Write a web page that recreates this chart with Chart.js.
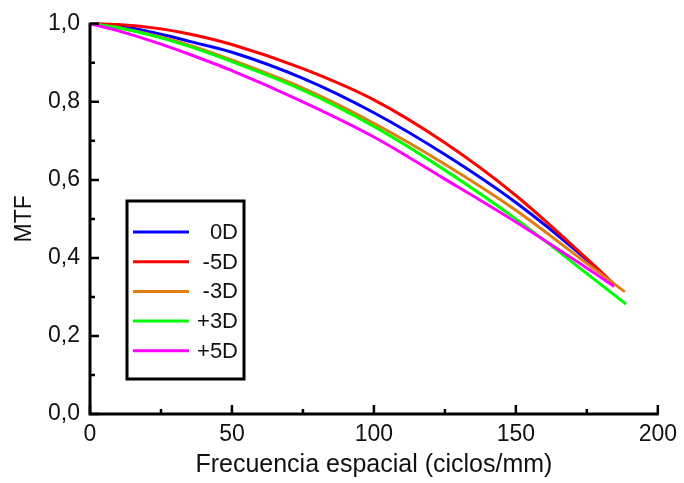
<!DOCTYPE html>
<html>
<head>
<meta charset="utf-8">
<title>MTF</title>
<script src="https://cdn.jsdelivr.net/npm/chart.js@4.4.1/dist/chart.umd.min.js"></script>
<style>
  html, body { margin: 0; padding: 0; background: #fff; }
  #grafico { display: block; }
</style>
</head>
<body>
<canvas id="grafico" width="684" height="483"></canvas>
<script>
// Frecuencias comunes (ciclos/mm) y punto final de cada curva
const frecuencia = [0, 10, 25, 35, 50, 75, 100, 125, 150, 175];
const frecuenciaFinal = [184, 185, 188.4, 188.8, 184.6];

const etiquetas = ['0D', '-5D', '-3D', '+3D', '+5D'];
const colores = ['#0000ff', '#ff0000', '#e07d10', '#00ff00', '#ff00ff'];

// Valores de MTF
const mtf0D  = [1.0, 0.995, 0.973, 0.955, 0.927, 0.86, 0.772, 0.665, 0.542, 0.395, 0.335];
const mtfM5D = [1.0, 0.998, 0.987, 0.974, 0.947, 0.885, 0.805, 0.695, 0.56, 0.398, 0.33];
const mtfM3D = [1.0, 0.99, 0.966, 0.945, 0.907, 0.835, 0.745, 0.64, 0.522, 0.386, 0.313];
const mtfP3D = [1.0, 0.99, 0.964, 0.942, 0.903, 0.83, 0.737, 0.625, 0.50, 0.36, 0.282];
const mtfP5D = [1.0, 0.982, 0.948, 0.922, 0.88, 0.80, 0.71, 0.602, 0.492, 0.374, 0.327];

const series = [mtf0D, mtfM5D, mtfM3D, mtfP3D, mtfP5D];

const yTicks = [0, 0.2, 0.4, 0.6, 0.8, 1.0];
const xTicks = [0, 50, 100, 150, 200];

const fuente = '"Liberation Sans", Arial, sans-serif';

const datasets = series.map((valores, i) => ({
  label: etiquetas[i],
  data: valores.map((v, j) => ({ x: j < frecuencia.length ? frecuencia[j] : frecuenciaFinal[i], y: v })),
  borderColor: colores[i],
  borderWidth: 3,
  pointRadius: 0,
  cubicInterpolationMode: 'monotone',
  fill: false,
  clip: false,
  order: series.length - i
}));

// ejes con marcas hacia dentro
const ejes = {
  id: 'ejes',
  afterDatasetsDraw(chart) {
    const ctx = chart.ctx;
    const xs = chart.scales.x, ys = chart.scales.y;
    const x0 = xs.getPixelForValue(0), y0 = ys.getPixelForValue(0);
    ctx.save();
    ctx.strokeStyle = '#000';
    ctx.lineWidth = 3;
    ctx.lineCap = 'butt';
    ctx.beginPath();
    ctx.moveTo(x0, ys.getPixelForValue(1.0) - 1);
    ctx.lineTo(x0, y0);
    ctx.lineTo(xs.getPixelForValue(200) + 1, y0);
    ctx.stroke();
    ctx.lineWidth = 2.5;
    ctx.beginPath();
    for (let v = 0; v <= 200; v += 25) {
      const px = xs.getPixelForValue(v);
      const len = v % 50 === 0 ? 9 : 5;
      ctx.moveTo(px, y0);
      ctx.lineTo(px, y0 - len);
    }
    for (let k = 0; k <= 10; k++) {
      const py = ys.getPixelForValue(k / 10);
      const len = k % 2 === 0 ? 9 : 5;
      ctx.moveTo(x0, py);
      ctx.lineTo(x0 + len, py);
    }
    ctx.stroke();
    ctx.restore();
  }
};

// leyenda dentro del área
const leyenda = {
  id: 'leyenda',
  afterDraw(chart) {
    const ctx = chart.ctx;
    const caja = { x: 127, y: 201, w: 117, h: 178 };
    ctx.save();
    ctx.fillStyle = '#fff';
    ctx.fillRect(caja.x, caja.y, caja.w, caja.h);
    ctx.strokeStyle = '#000';
    ctx.lineWidth = 3;
    ctx.strokeRect(caja.x, caja.y, caja.w, caja.h);
    ctx.font = '22px ' + fuente;
    ctx.textAlign = 'right';
    ctx.textBaseline = 'middle';
    chart.data.datasets.forEach((ds, i) => {
      const y = 232 + i * 29.7;
      ctx.strokeStyle = ds.borderColor;
      ctx.lineWidth = 3;
      ctx.beginPath();
      ctx.moveTo(133, y);
      ctx.lineTo(189, y);
      ctx.stroke();
      ctx.fillStyle = '#111';
      ctx.fillText(ds.label, 238, y + 1);
    });
    ctx.restore();
  }
};

new Chart(document.getElementById('grafico'), {
  type: 'line',
  data: { datasets },
  options: {
    responsive: false,
    animation: false,
    layout: { padding: { top: 20, right: 22, left: 0, bottom: 0 } },
    plugins: { legend: { display: false }, tooltip: { enabled: false } },
    scales: {
      x: {
        type: 'linear',
        min: 0,
        max: 200,
        afterFit(scale) { scale.height = 69; },
        afterBuildTicks(scale) { scale.ticks = xTicks.map(v => ({ value: v })); },
        grid: { display: false, drawTicks: false },
        border: { display: false },
        ticks: {
          color: '#111',
          font: { family: fuente, size: 23 },
          padding: 7,
          maxRotation: 0,
          callback: v => String(v)
        },
        title: {
          display: true,
          text: 'Frecuencia espacial (ciclos/mm)',
          color: '#111',
          font: { family: fuente, size: 25 },
          padding: { top: 0, bottom: 3 }
        }
      },
      y: {
        type: 'linear',
        min: 0,
        max: 1.0,
        afterFit(scale) { scale.width = 90; },
        afterBuildTicks(scale) { scale.ticks = yTicks.map(v => ({ value: v })); },
        grid: { display: false, drawTicks: false },
        border: { display: false },
        ticks: {
          color: '#111',
          font: { family: fuente, size: 23 },
          padding: 10,
          callback: v => v.toFixed(1).replace('.', ',')
        },
        title: {
          display: true,
          text: 'MTF',
          color: '#111',
          font: { family: fuente, size: 23 },
          padding: { top: 11, bottom: 0 }
        }
      }
    }
  },
  plugins: [ejes, leyenda]
});
</script>
</body>
</html>
